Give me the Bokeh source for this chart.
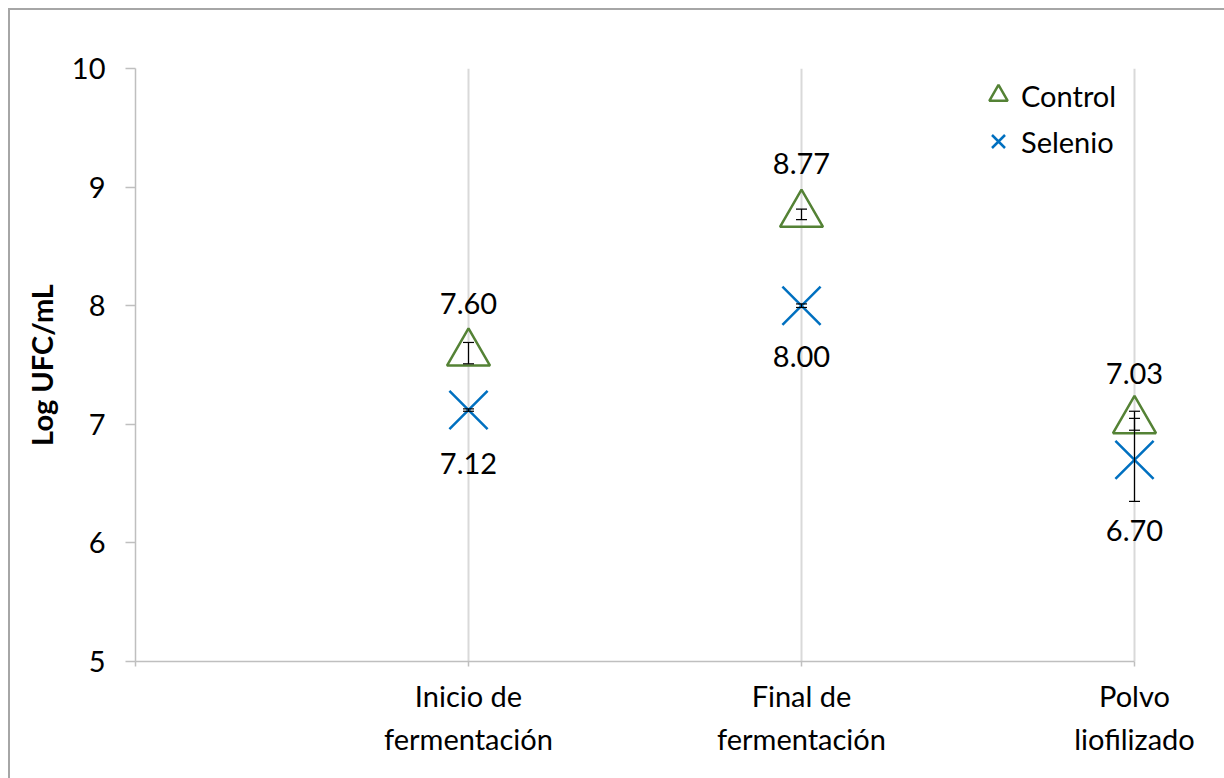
from bokeh.plotting import figure
from bokeh.layouts import column
from bokeh.models import (ColumnDataSource, FixedTicker, Whisker, TeeHead,
                          Legend, LegendItem)
from bokeh.core.properties import value
from bokeh.embed import file_html
from bokeh.resources import INLINE

# --- data -------------------------------------------------------------
stage_x = [1, 2, 3]
stage_labels = ["Inicio de\nfermentación", "Final de\nfermentación", "Polvo\nliofilizado"]
control = [7.60, 8.77, 7.03]
control_err = [0.09, 0.045, 0.08]
selenio = [7.12, 8.00, 6.70]
selenio_err = [0.01, 0.015, 0.35]
y_ticks = [5, 6, 7, 8, 9, 10]

# vertical pixel offsets of the value labels (negative = above the point)
control_label_dy = [-50, -51, -47]
selenio_label_dy = [53, 51, 71]

FONT = "Lato"
FS = "29px"
GREEN = "#548235"
BLUE = "#0070C0"
AXIS_GRAY = "#BFBFBF"

ctrl_src = ColumnDataSource(dict(
    x=stage_x, y=control,
    lower=[v - e for v, e in zip(control, control_err)],
    upper=[v + e for v, e in zip(control, control_err)],
    txt=[f"{v:.2f}" for v in control],
    dy=control_label_dy,
))
sel_src = ColumnDataSource(dict(
    x=stage_x, y=selenio,
    lower=[v - e for v, e in zip(selenio, selenio_err)],
    upper=[v + e for v, e in zip(selenio, selenio_err)],
    txt=[f"{v:.2f}" for v in selenio],
    dy=selenio_label_dy,
))

# the plot frame runs on past the last category so that the marks and labels
# at x=3 are not clipped; the axis itself stops at x=3
W, H = 1214, 768
frame_left, frame_w = 125, W - 125
x_end = 3 * frame_w / 999.0

p = figure(width=W, height=H, x_range=(0, x_end), y_range=(5, 10),
           output_backend="svg", toolbar_location=None,
           min_border_left=frame_left, min_border_right=0,
           min_border_top=58, min_border_bottom=117,
           background_fill_color="white", border_fill_color="white")
p.outline_line_color = None

# axes
p.yaxis.ticker = FixedTicker(ticks=y_ticks)
p.xaxis.ticker = FixedTicker(ticks=[0] + stage_x)
p.xaxis.bounds = (0, 3)
p.xaxis.major_label_overrides = {0: ""} | {x: lab for x, lab in zip(stage_x, stage_labels)}

for ax in (p.xaxis, p.yaxis):
    ax.axis_line_color = AXIS_GRAY
    ax.axis_line_width = 1.5
    ax.major_tick_line_color = AXIS_GRAY
    ax.major_tick_line_width = 1.5
    ax.minor_tick_line_color = None
    ax.major_tick_in = 0
    ax.major_label_text_font = FONT
    ax.major_label_text_font_size = FS
    ax.major_label_text_color = "black"

p.yaxis.major_tick_out = 10
p.yaxis.major_label_standoff = 20
p.yaxis.axis_label = "Log UFC/mL"
p.yaxis.axis_label_text_font = FONT
p.yaxis.axis_label_text_font_size = FS
p.yaxis.axis_label_text_font_style = "bold"
p.yaxis.axis_label_text_color = "black"
p.yaxis.axis_label_standoff = 10

p.xaxis.major_tick_out = 5
p.xaxis.major_label_standoff = 11
p.xaxis.major_label_text_line_height = 1.24

p.ygrid.visible = False
p.xgrid.grid_line_color = "#D9D9D9"
p.xgrid.grid_line_width = 2

# markers
r_sel = p.scatter("x", "y", source=sel_src, marker="x", size=54,
                  line_color=BLUE, line_width=2.5)
r_ctrl = p.scatter("x", "y", source=ctrl_src, marker="triangle", size=43,
                   fill_color=None, line_color=GREEN, line_width=2.5)

# error bars
for src in (ctrl_src, sel_src):
    p.add_layout(Whisker(source=src, base="x", lower="lower", upper="upper",
                         dimension="height", line_color="black", line_width=1.2,
                         level="overlay",
                         upper_head=TeeHead(size=11, line_color="black", line_width=1.2),
                         lower_head=TeeHead(size=11, line_color="black", line_width=1.2)))

# value labels
for src in (ctrl_src, sel_src):
    p.text("x", "y", text="txt", source=src, y_offset="dy",
           text_align="center", text_baseline="middle",
           text_font=value(FONT), text_font_size=FS, text_color="black")

legend = Legend(items=[LegendItem(label="Control", renderers=[r_ctrl]),
                       LegendItem(label="Selenio", renderers=[r_sel])],
                location=(840, 497), glyph_width=46, glyph_height=46,
                label_standoff=0, spacing=0, padding=0, margin=0,
                border_line_color=None, background_fill_alpha=0,
                label_text_font=FONT, label_text_font_size=FS,
                label_text_color="black")
p.add_layout(legend)

# chart-area border
root = column(p, styles={"margin-left": "8px", "margin-top": "8px",
                         "border-left": "2px solid #A6A6A6",
                         "border-top": "2px solid #A6A6A6"})

open("out.html", "w").write(file_html(root, INLINE))
